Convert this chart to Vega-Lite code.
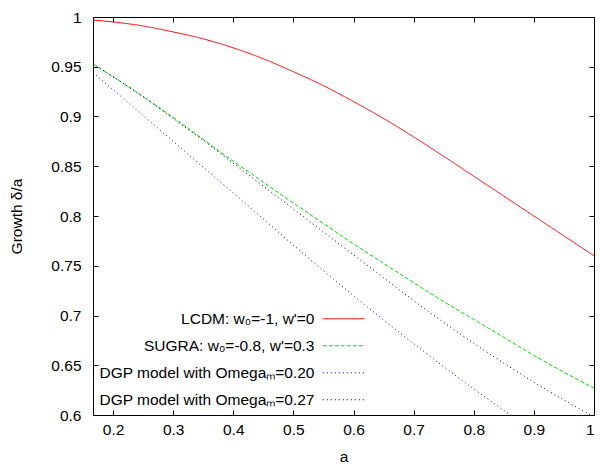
{
  "$schema": "https://vega.github.io/schema/vega-lite/v6.json",
  "width": 501,
  "height": 398,
  "autosize": "none",
  "padding": {"left": 93, "top": 17, "right": 6, "bottom": 51},
  "config": {
    "view": {"stroke": "black", "strokeWidth": 1},
    "font": "Liberation Sans",
    "axis": {
      "grid": false, "domain": false, "tickSize": -5, "tickColor": "black", "tickWidth": 1,
      "labelColor": "black", "labelFontSize": 15.5, "titleFontSize": 15.5, "titleFontWeight": "normal",
      "titleColor": "black", "labelFont": "Liberation Sans", "titleFont": "Liberation Sans"
    }
  },
  "data": {"values": [
    {"model": "L", "a": 0.1667, "g": 0.997},
    {"model": "L", "a": 0.2, "g": 0.995},
    {"model": "L", "a": 0.25, "g": 0.991},
    {"model": "L", "a": 0.3, "g": 0.985},
    {"model": "L", "a": 0.35, "g": 0.978},
    {"model": "L", "a": 0.4, "g": 0.969},
    {"model": "L", "a": 0.45, "g": 0.958},
    {"model": "L", "a": 0.5, "g": 0.945},
    {"model": "L", "a": 0.55, "g": 0.931},
    {"model": "L", "a": 0.6, "g": 0.915},
    {"model": "L", "a": 0.65, "g": 0.898},
    {"model": "L", "a": 0.7, "g": 0.8795},
    {"model": "L", "a": 0.75, "g": 0.860},
    {"model": "L", "a": 0.8, "g": 0.840},
    {"model": "L", "a": 0.85, "g": 0.820},
    {"model": "L", "a": 0.9, "g": 0.800},
    {"model": "L", "a": 0.95, "g": 0.780},
    {"model": "L", "a": 1.0, "g": 0.760},
    {"model": "S", "a": 0.1667, "g": 0.953},
    {"model": "S", "a": 0.2, "g": 0.940},
    {"model": "S", "a": 0.25, "g": 0.920},
    {"model": "S", "a": 0.3, "g": 0.899},
    {"model": "S", "a": 0.35, "g": 0.877},
    {"model": "S", "a": 0.4, "g": 0.855},
    {"model": "S", "a": 0.45, "g": 0.834},
    {"model": "S", "a": 0.5, "g": 0.813},
    {"model": "S", "a": 0.55, "g": 0.7925},
    {"model": "S", "a": 0.6, "g": 0.772},
    {"model": "S", "a": 0.65, "g": 0.7525},
    {"model": "S", "a": 0.7, "g": 0.733},
    {"model": "S", "a": 0.75, "g": 0.714},
    {"model": "S", "a": 0.8, "g": 0.696},
    {"model": "S", "a": 0.85, "g": 0.678},
    {"model": "S", "a": 0.9, "g": 0.660},
    {"model": "S", "a": 0.95, "g": 0.643},
    {"model": "S", "a": 1.0, "g": 0.627},
    {"model": "D20", "a": 0.1667, "g": 0.944},
    {"model": "D20", "a": 0.2, "g": 0.927},
    {"model": "D20", "a": 0.25, "g": 0.901},
    {"model": "D20", "a": 0.3, "g": 0.875},
    {"model": "D20", "a": 0.35, "g": 0.849},
    {"model": "D20", "a": 0.4, "g": 0.823},
    {"model": "D20", "a": 0.45, "g": 0.797},
    {"model": "D20", "a": 0.5, "g": 0.7707},
    {"model": "D20", "a": 0.55, "g": 0.7451},
    {"model": "D20", "a": 0.6, "g": 0.720},
    {"model": "D20", "a": 0.65, "g": 0.6955},
    {"model": "D20", "a": 0.7, "g": 0.6717},
    {"model": "D20", "a": 0.75, "g": 0.6486},
    {"model": "D20", "a": 0.8, "g": 0.6262},
    {"model": "D20", "a": 0.85, "g": 0.6047},
    {"model": "D20", "a": 0.875, "g": 0.5942},
    {"model": "D27", "a": 0.1667, "g": 0.953},
    {"model": "D27", "a": 0.2, "g": 0.940},
    {"model": "D27", "a": 0.25, "g": 0.920},
    {"model": "D27", "a": 0.3, "g": 0.898},
    {"model": "D27", "a": 0.35, "g": 0.876},
    {"model": "D27", "a": 0.4, "g": 0.853},
    {"model": "D27", "a": 0.45, "g": 0.830},
    {"model": "D27", "a": 0.5, "g": 0.807},
    {"model": "D27", "a": 0.55, "g": 0.784},
    {"model": "D27", "a": 0.6, "g": 0.761},
    {"model": "D27", "a": 0.65, "g": 0.738},
    {"model": "D27", "a": 0.7, "g": 0.715},
    {"model": "D27", "a": 0.75, "g": 0.693},
    {"model": "D27", "a": 0.8, "g": 0.672},
    {"model": "D27", "a": 0.85, "g": 0.652},
    {"model": "D27", "a": 0.9, "g": 0.633},
    {"model": "D27", "a": 0.95, "g": 0.615},
    {"model": "D27", "a": 1.0, "g": 0.598}
  ]},
  "transform": [
    {"lookup": "model", "from": {"data": {"values": [
      {"model": "L", "label": "LCDM: w₀=-1, w'=0"},
      {"model": "S", "label": "SUGRA: w₀=-0.8, w'=0.3"},
      {"model": "D20", "label": "DGP model with Omegaₘ=0.20"},
      {"model": "D27", "label": "DGP model with Omegaₘ=0.27"}
    ]}, "key": "model", "fields": ["label"]}}
  ],
  "resolve": {"axis": {"x": "independent", "y": "independent"}},
  "layer": [
    {
      "mark": {"type": "line", "strokeWidth": 1, "clip": true, "interpolate": "monotone"},
      "encoding": {
        "x": {"field": "a", "type": "quantitative",
          "scale": {"domain": [0.16667, 1], "nice": false, "zero": false},
          "axis": {"orient": "bottom", "values": [0.2, 0.3, 0.4, 0.5, 0.6, 0.7, 0.8, 0.9, 1], "format": "~g", "title": "a", "labelPadding": 12, "titlePadding": 12}},
        "y": {"field": "g", "type": "quantitative",
          "scale": {"domain": [0.6, 1], "nice": false, "zero": false},
          "axis": {"orient": "left", "values": [0.6, 0.65, 0.7, 0.75, 0.8, 0.85, 0.9, 0.95, 1], "format": "~g", "title": "Growth δ/a", "labelPadding": 17, "titlePadding": 26}},
        "color": {"field": "label", "type": "nominal",
          "scale": {"domain": ["LCDM: w₀=-1, w'=0", "SUGRA: w₀=-0.8, w'=0.3", "DGP model with Omegaₘ=0.20", "DGP model with Omegaₘ=0.27"], "range": ["#ff0000", "#00e000", "#0000ff", "#000000"]},
          "legend": {
            "title": null, "orient": "none", "legendX": 243, "legendY": 294, "padding": 0,
            "symbolType": "M-4,0H4", "symbolSize": 110, "symbolStrokeWidth": 1,
            "labelAlign": "right", "labelOffset": -37, "labelFontSize": 15.5, "labelColor": "black", "labelFont": "Liberation Sans",
            "rowPadding": 10, "labelLimit": 400
          }},
        "strokeDash": {"field": "label", "type": "nominal",
          "scale": {"domain": ["LCDM: w₀=-1, w'=0", "SUGRA: w₀=-0.8, w'=0.3", "DGP model with Omegaₘ=0.20", "DGP model with Omegaₘ=0.27"], "range": [[1, 0], [4, 2], [1, 3], [1, 3]]}}
      }
    },
    {
      "mark": {"type": "line", "opacity": 0},
      "encoding": {
        "x": {"field": "a", "type": "quantitative", "axis": {"orient": "top", "values": [0.2, 0.3, 0.4, 0.5, 0.6, 0.7, 0.8, 0.9, 1], "labels": false, "title": null}},
        "y": {"field": "g", "type": "quantitative", "axis": {"orient": "right", "values": [0.6, 0.65, 0.7, 0.75, 0.8, 0.85, 0.9, 0.95, 1], "labels": false, "title": null}},
        "detail": {"field": "model"}
      }
    }
  ]
}
